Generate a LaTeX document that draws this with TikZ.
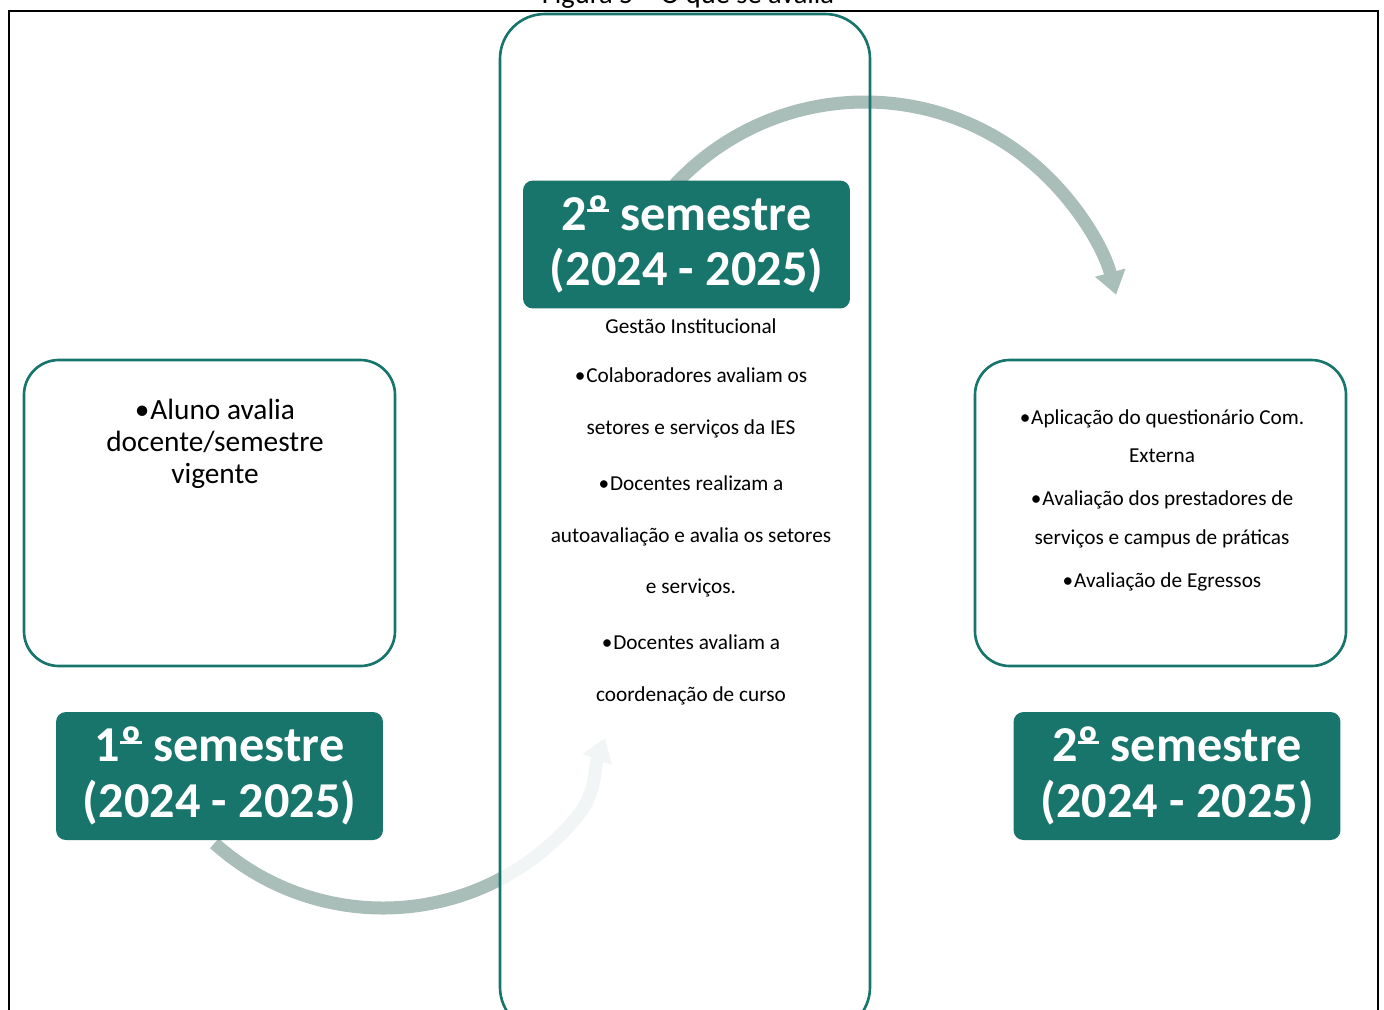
\documentclass[tikz,border=0pt]{standalone}
\usepackage{fontspec}
\setmainfont{Carlito}
\usetikzlibrary{arrows.meta}
\definecolor{verde}{RGB}{23,117,107}
\definecolor{cinza}{RGB}{169,189,185}
% indicador ordinal sublinhado
\newcommand\ordsub{{\setbox0\hbox{º}\rlap{º}\raisebox{0.36em}{\rule{\wd0}{0.06em}}}}
\tikzset{>={Triangle[width=17pt,length=13pt]},
  caixa/.style={draw=verde, line width=1.5pt, rounded corners=19.8pt, fill=white},
  rotulo/.style={fill=verde, rounded corners=5.6pt, text=white, align=center, inner sep=0pt,
    minimum width=6.54cm, minimum height=2.56cm, font=\bfseries\fontsize{28.6}{31.7}\selectfont},
  texto/.style={align=center, inner sep=0pt, anchor=north},
  seta/.style={draw=cinza, line width=7.4pt, ->, cinza},
}

\begin{document}
\begin{tikzpicture}[x=0.02cm, y=0.02cm]
    \useasboundingbox (0,0) rectangle (1384,-1009);
    \coordinate (c1) at (383,-656);
    \coordinate (c2) at (865,-362);
    \coordinate (p1) at (605,-738);
    % seta de baixo (fica por tras da caixa central)
    \draw[seta] (c1) ++(228:252) arc[start angle=228, end angle=320, radius=252] to[out=50, in=-110] (p1);
    \fill[white, opacity=0.86, rounded corners=25.5pt] (500,-14) rectangle (870,-1032);
    % seta de cima
    \draw[seta] (c2) ++(137:260) arc[start angle=137, end angle=15, radius=260];
    \draw[verde, line width=1.5pt, rounded corners=25.5pt] (500,-14) rectangle (870,-1032);
    \draw[caixa] (24,-360) rectangle (395,-666);
    \draw[caixa] (975,-360) rectangle (1346,-666);

    \node[rotulo] (rot1) at (219.5,-776) {1\ordsub\ semestre\\(2024 - 2025)};
    \node[rotulo] (rot2) at (686.5,-244.5) {2\ordsub\ semestre\\(2024 - 2025)};
    \node[rotulo] (rot3) at (1177,-776) {2\ordsub\ semestre\\(2024 - 2025)};

    \node[texto, font=\fontsize{16.7}{18.2}\selectfont] (txt1) at (215,-399)
        {•\hspace{0.5pt}Aluno avalia\\docente/semestre\\vigente};
    \node[texto, font=\fontsize{12.1}{29.5}\selectfont] (txt2) at (691,-318.5)
        {Gestão Institucional\\[-1.7pt]
         •\hspace{0.5pt}Colaboradores avaliam os\\setores e serviços da IES\\[2.3pt]
         •\hspace{0.5pt}Docentes realizam a\\autoavaliação e avalia os setores\\e serviços.\\[2.3pt]
         •\hspace{0.5pt}Docentes avaliam a\\coordenação de curso};
    \node[texto, font=\fontsize{12.1}{22.1}\selectfont] (txt3) at (1162,-409)
        {•\hspace{0.5pt}Aplicação do questionário Com.\\Externa\\[2.3pt]
         •\hspace{0.5pt}Avaliação dos prestadores de\\serviços e campus de práticas\\[2.3pt]
         •\hspace{0.5pt}Avaliação de Egressos};

    \node[anchor=base, inner sep=0pt, font=\fontsize{16.2}{19}\selectfont] (titulo) at (688,-3) {Figura 5 – O que se avalia};
    \draw[line width=1pt] (9,-1020) -- (9,-11) -- (1378,-11) -- (1378,-1020);
\end{tikzpicture}
\end{document}
